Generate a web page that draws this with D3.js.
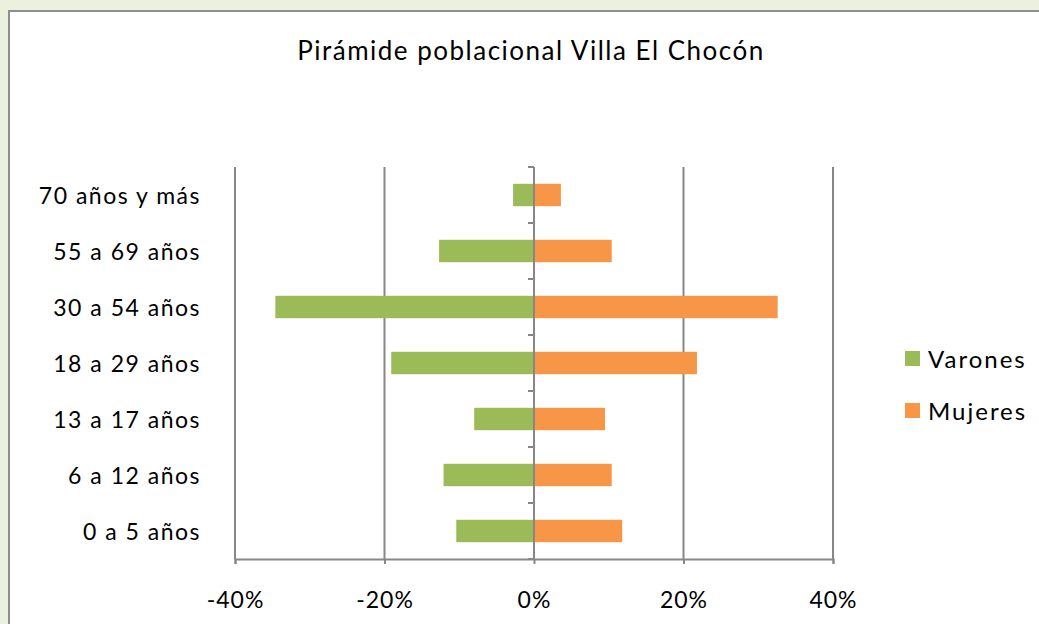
<!DOCTYPE html>
<html>
<head>
<meta charset="utf-8">
<script src="https://cdn.jsdelivr.net/npm/d3@7"></script>
<style>
  body { margin: 0; background: #ebf1de; }
  svg { display: block; }
</style>
</head>
<body>
<div id="my_dataviz"></div>
<script>
// age groups, top to bottom as shown
var categories = ["70 años y más", "55 a 69 años", "30 a 54 años", "18 a 29 años", "13 a 17 años", "6 a 12 años", "0 a 5 años"];
// percent of each sex (varones drawn to the left)
var varones = [-2.8, -12.7, -34.6, -19.1, -8.0, -12.1, -10.4];
var mujeres = [3.6, 10.4, 32.6, 21.8, 9.5, 10.4, 11.8];
var xTicks = [-40, -20, 0, 20, 40];
var seriesNames = ["Varones", "Mujeres"];
var seriesColors = ["#9bbb59", "#f79646"];

var W = 1039, H = 624;
var margin = { top: 167, left: 235, right: 1039 - 833, bottom: 624 - 559 };
var width = W - margin.left - margin.right,
    height = H - margin.top - margin.bottom;

var font = "Lato, 'Open Sans', sans-serif";

var svgRoot = d3.select("#my_dataviz")
    .append("svg")
    .attr("width", W)
    .attr("height", H);

// chart panel with gray border
svgRoot.append("rect")
    .attr("x", 9).attr("y", 11)
    .attr("width", W + 10).attr("height", H + 10)
    .attr("fill", "#ffffff")
    .attr("stroke", "#8e8e8e")
    .attr("stroke-width", 2);

// title
svgRoot.append("text")
    .attr("x", 531).attr("y", 51)
    .attr("text-anchor", "middle")
    .attr("dy", "0.36em")
    .style("font-family", font)
    .style("font-size", "26px")
    .style("letter-spacing", "1.5px")
    .style("fill", "#000")
    .text("Pirámide poblacional Villa El Chocón");

var svg = svgRoot.append("g")
    .attr("transform", "translate(" + margin.left + "," + margin.top + ")");

var x = d3.scaleLinear().domain([-40, 40]).range([0, width]);
var y = d3.scaleBand().domain(categories).range([0, height]).paddingInner(0.6).paddingOuter(0.3);

// vertical gridlines
svg.selectAll("gridline")
    .data(xTicks)
    .enter()
    .append("line")
    .attr("x1", function (d) { return x(d); })
    .attr("x2", function (d) { return x(d); })
    .attr("y1", 0)
    .attr("y2", height)
    .attr("stroke", "#878787")
    .attr("stroke-width", 2);

// bars
var rows = categories.map(function (c, i) {
    return { cat: c, v: varones[i], m: mujeres[i] };
});

svg.selectAll("barV")
    .data(rows)
    .enter()
    .append("rect")
    .attr("x", function (d) { return x(d.v); })
    .attr("y", function (d) { return y(d.cat); })
    .attr("width", function (d) { return x(0) - x(d.v); })
    .attr("height", y.bandwidth())
    .attr("fill", seriesColors[0]);

svg.selectAll("barM")
    .data(rows)
    .enter()
    .append("rect")
    .attr("x", x(0))
    .attr("y", function (d) { return y(d.cat); })
    .attr("width", function (d) { return x(d.m) - x(0); })
    .attr("height", y.bandwidth())
    .attr("fill", seriesColors[1]);

// X axis
var xAxis = svg.append("g")
    .attr("transform", "translate(0," + height + ")")
    .call(d3.axisBottom(x).tickValues(xTicks).tickSize(5).tickPadding(28)
        .tickFormat(function (d) { return d + "%"; }));
xAxis.select(".domain").attr("stroke", "#878787").attr("stroke-width", 2);
xAxis.selectAll(".tick line").attr("stroke", "#878787").attr("stroke-width", 2);
xAxis.selectAll("text")
    .style("font-family", font)
    .style("font-size", "23px")
    .style("letter-spacing", "1px")
    .style("fill", "#000");

// Y axis at zero, ticks at category boundaries
var yAxisG = svg.append("g").attr("transform", "translate(" + x(0) + ",0)");
yAxisG.append("line")
    .attr("y1", 0).attr("y2", height)
    .attr("stroke", "#878787").attr("stroke-width", 2);
var step = height / categories.length;
yAxisG.selectAll("ytick")
    .data(d3.range(categories.length + 1))
    .enter()
    .append("line")
    .attr("x1", -6).attr("x2", 0)
    .attr("y1", function (i) { return i * step; })
    .attr("y2", function (i) { return i * step; })
    .attr("stroke", "#878787").attr("stroke-width", 2);

// category labels
svg.selectAll("catlabel")
    .data(categories)
    .enter()
    .append("text")
    .attr("x", -34)
    .attr("y", function (d) { return y(d) + y.bandwidth() / 2 + 1; })
    .attr("dy", "0.36em")
    .attr("text-anchor", "end")
    .style("font-family", font)
    .style("font-size", "23px")
    .style("letter-spacing", "1.5px")
    .style("fill", "#000")
    .text(function (d) { return d; });

// legend
var legend = svgRoot.selectAll("legend")
    .data(seriesNames)
    .enter()
    .append("g")
    .attr("transform", function (d, i) { return "translate(905," + (351 + i * 52) + ")"; });
legend.append("rect")
    .attr("width", 15).attr("height", 15)
    .attr("fill", function (d, i) { return seriesColors[i]; });
legend.append("text")
    .attr("x", 23).attr("y", 8)
    .attr("dy", "0.36em")
    .style("font-family", font)
    .style("font-size", "24px")
    .style("letter-spacing", "2px")
    .style("fill", "#000")
    .text(function (d) { return d; });
</script>
</body>
</html>
